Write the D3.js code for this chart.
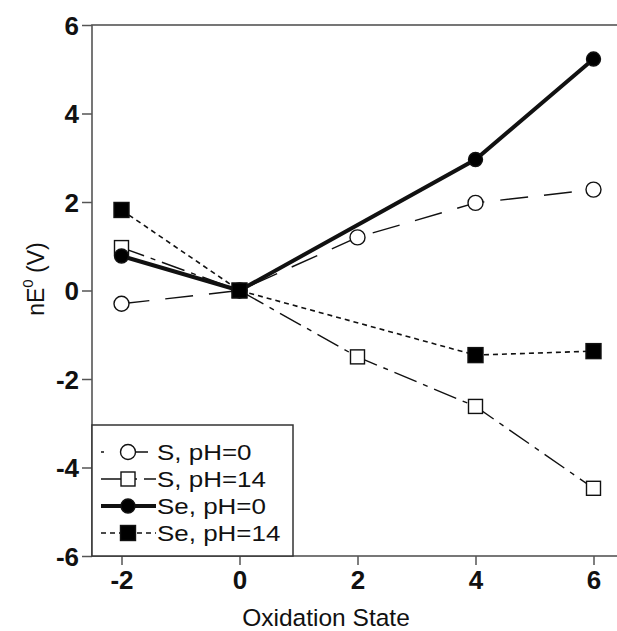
<!DOCTYPE html>
<html>
<head>
<meta charset="utf-8">
<script src="https://cdn.jsdelivr.net/npm/d3@7"></script>
<style>
  body { margin: 0; background: #fff; }
  svg { font-family: "Liberation Sans", Arial, sans-serif; }
</style>
</head>
<body>
<svg id="chart" width="617" height="631"></svg>
<script>
// oxidation states and nE0 values
const sPh0 = [[-2, -0.3], [0, 0], [2, 1.2], [4, 1.98], [6, 2.28]];
const sPh14 = [[-2, 0.97], [0, 0], [2, -1.5], [4, -2.62], [6, -4.47]];
const sePh0 = [[-2, 0.78], [0, 0], [4, 2.96], [6, 5.23]];
const sePh14 = [[-2, 1.82], [0, 0], [4, -1.46], [6, -1.37]];
const xTicks = [-2, 0, 2, 4, 6];
const yTicks = [-6, -4, -2, 0, 2, 4, 6];

const series = [
  { name: "S, pH=0", data: sPh0, dash: "28,16", legOffset: 25, width: 1.4, marker: "circle", fill: "#fff" },
  { name: "S, pH=14", data: sPh14, dash: "24,7,5,7", legOffset: 0, width: 1.4, marker: "square", fill: "#fff" },
  { name: "Se, pH=0", data: sePh0, dash: null, legOffset: 0, width: 4, marker: "circle", fill: "#000" },
  { name: "Se, pH=14", data: sePh14, dash: "5,4", legOffset: 0, width: 1.6, marker: "square", fill: "#000" }
];

const svg = d3.select("#chart");
const m = { left: 92, top: 25, right: -6, bottom: 75 };
const W = 617, H = 631;
const x = d3.scaleLinear().domain([-2.5, 6.5]).range([m.left, W - m.right]);
const y = d3.scaleLinear().domain([-6, 6]).range([H - m.bottom, m.top]);
const fmt = d => String(d); // plain hyphen like the original

// axes
const gx = svg.append("g").attr("transform", `translate(0,${y(-6)})`)
  .call(d3.axisBottom(x).tickValues(xTicks).tickSize(9).tickPadding(6).tickFormat(fmt));
const gy = svg.append("g").attr("transform", `translate(${x(-2.5)},0)`)
  .call(d3.axisLeft(y).tickValues(yTicks).tickSize(10).tickPadding(3).tickFormat(fmt));
[gx, gy].forEach(g => {
  g.select(".domain").remove();
  g.selectAll("line").attr("stroke", "#555").attr("stroke-width", 1.5);
  g.selectAll("text").attr("font-size", 26).attr("fill", "#111")
    .attr("font-family", "Liberation Sans, Arial, sans-serif").attr("font-weight", "bold");
});
gy.selectAll("text").attr("dy", "0.36em");

// frame
svg.append("rect").attr("x", x(-2.5)).attr("y", y(6))
  .attr("width", x(6.5) - x(-2.5)).attr("height", y(-6) - y(6))
  .attr("fill", "none").attr("stroke", "#555").attr("stroke-width", 1.6);

// lines and markers
const line = d3.line().x(d => x(d[0])).y(d => y(d[1]));
series.forEach(s => {
  svg.append("path").datum(s.data).attr("d", line)
    .attr("fill", "none").attr("stroke", "#111").attr("stroke-width", s.width)
    .attr("stroke-dasharray", s.dash);
});

function drawMarker(g, s, cx, cy) {
  if (s.marker === "circle") {
    g.append("circle").attr("cx", cx).attr("cy", cy).attr("r", s.fill === "#000" ? 7 : 7.5)
      .attr("fill", s.fill).attr("stroke", "#111").attr("stroke-width", 1.4);
  } else {
    const h = s.fill === "#000" ? 7.5 : 7;
    g.append("rect").attr("x", cx - h).attr("y", cy - h).attr("width", 2 * h).attr("height", 2 * h)
      .attr("fill", s.fill).attr("stroke", "#111").attr("stroke-width", 1.4);
  }
}
series.forEach(s => {
  const g = svg.append("g");
  s.data.forEach(d => drawMarker(g, s, x(d[0]), y(d[1])));
});

// legend (text in the original is a bit stretched sideways)
const lg = svg.append("g");
lg.append("rect").attr("x", x(-2.5)).attr("y", 425)
  .attr("width", 201).attr("height", y(-6) - 425)
  .attr("fill", "#fff").attr("stroke", "#333").attr("stroke-width", 1.5);
series.forEach((s, i) => {
  const ly = 452 + i * 27;
  lg.append("line").attr("x1", 101).attr("x2", 156).attr("y1", ly).attr("y2", ly)
    .attr("stroke", "#111").attr("stroke-width", s.width).attr("stroke-dasharray", s.dash)
    .attr("stroke-dashoffset", s.legOffset);
  drawMarker(lg, s, 128, ly);
  lg.append("text").attr("transform", `translate(157,${ly}) scale(1.18,1)`).attr("dy", "0.36em")
    .attr("font-size", 22).attr("fill", "#111").text(s.name);
});

// axis titles
svg.append("text").attr("x", 326).attr("y", 626).attr("text-anchor", "middle")
  .attr("font-size", 24.5).attr("fill", "#111").text("Oxidation State");
const yt = svg.append("text").attr("transform", `translate(44,279) rotate(-90)`)
  .attr("text-anchor", "middle").attr("font-size", 23).attr("fill", "#111");
yt.append("tspan").text("nE");
yt.append("tspan").attr("font-size", 15).attr("dy", "-0.75em").text("0");
yt.append("tspan").attr("dy", "0.5em").text(" (V)");
</script>
</body>
</html>
